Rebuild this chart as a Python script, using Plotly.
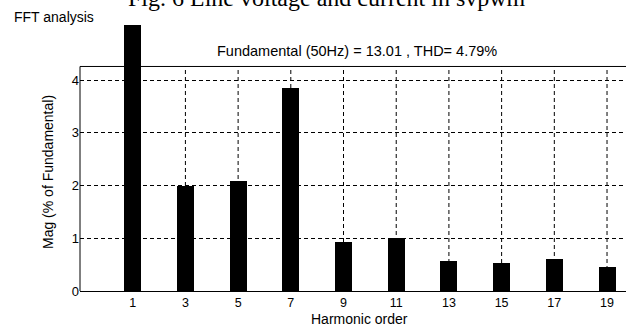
import plotly.graph_objects as go

harmonics = [1, 3, 5, 7, 9, 11, 13, 15, 17, 19]
magnitudes = [100.0, 2.0, 2.08, 3.86, 0.93, 1.0, 0.56, 0.54, 0.61, 0.46]
y_ticks = [0, 1, 2, 3, 4]
title_text = "Fig. 6 Line voltage and current in svpwm"
panel_text = "FFT analysis"
info_text = "Fundamental (50Hz) = 13.01 , THD= 4.79%"
x_label = "Harmonic order"
y_label = "Mag (% of Fundamental)"

W, H = 626, 326
ML, MR, MT, MB = 80, 0, 25, 35
X_MIN, X_MAX = -1.0, 19.72
Y_MIN, Y_MAX = 0.0, 5.047
Y_FRAME = 4.26
PW = W - ML - MR
PH = H - MT - MB

font = "Liberation Sans, Arial, sans-serif"
DASH = "4px,3px"


def px_x(px):
    return (px - ML) / PW


def px_y(py):
    return (H - MB - py) / PH


fig = go.Figure()
fig.add_trace(go.Bar(
    x=harmonics, y=magnitudes, width=0.645,
    marker=dict(color="black", line=dict(width=0)),
    hoverinfo="x+y",
))

shapes = []
for h in harmonics:
    shapes.append(dict(type="line", xref="x", yref="y", x0=h, x1=h, y0=0, y1=Y_FRAME,
                       line=dict(color="black", width=1, dash=DASH), layer="below"))
shapes.append(dict(type="line", xref="paper", yref="y", x0=0, x1=1, y0=Y_FRAME, y1=Y_FRAME,
                   line=dict(color="black", width=1), layer="below"))
shapes.append(dict(type="line", xref="paper", yref="y", x0=0, x1=0, y0=0, y1=Y_FRAME,
                   line=dict(color="black", width=1), layer="above"))

annotations = [
    dict(text=title_text, xref="paper", yref="paper", x=px_x(327), y=px_y(-2),
         showarrow=False, font=dict(family="Liberation Serif, Times New Roman, serif", size=24, color="black"),
         xanchor="center", yanchor="middle"),
    dict(text=panel_text, xref="paper", yref="paper", x=px_x(12), y=px_y(17),
         showarrow=False, font=dict(family=font, size=14, color="black"),
         xanchor="left", yanchor="middle"),
    dict(text=info_text, xref="paper", yref="paper", x=px_x(357), y=px_y(51),
         showarrow=False, font=dict(family=font, size=14.5, color="black"),
         xanchor="center", yanchor="middle"),
    dict(text=x_label, xref="paper", yref="paper", x=px_x(359), y=px_y(318.5),
         showarrow=False, font=dict(family=font, size=14, color="black"),
         xanchor="center", yanchor="middle"),
    dict(text=y_label, xref="paper", yref="paper", x=px_x(48), y=px_y(172),
         textangle=-90, showarrow=False, font=dict(family=font, size=14, color="black"),
         xanchor="center", yanchor="middle"),
]

fig.update_layout(
    width=W, height=H,
    margin=dict(l=ML, r=MR, t=MT, b=MB, pad=0),
    paper_bgcolor="white", plot_bgcolor="white",
    showlegend=False,
    bargap=0,
    xaxis=dict(range=[X_MIN, X_MAX], tickvals=harmonics, ticktext=[str(h) for h in harmonics],
               showgrid=False, zeroline=False, showline=True, linecolor="black", linewidth=1,
               ticks="", tickfont=dict(family=font, size=12.5, color="black")),
    yaxis=dict(range=[Y_MIN, Y_MAX], tickvals=y_ticks, ticktext=[str(v) for v in y_ticks],
               showgrid=True, gridcolor="black", gridwidth=1, griddash=DASH,
               zeroline=False, showline=False, ticks="",
               tickfont=dict(family=font, size=13, color="black")),
    shapes=shapes,
    annotations=annotations,
)

fig.write_html("out.html", config={"displayModeBar": False},
               post_script="document.body.style.margin='0px';document.body.style.overflow='hidden';")
